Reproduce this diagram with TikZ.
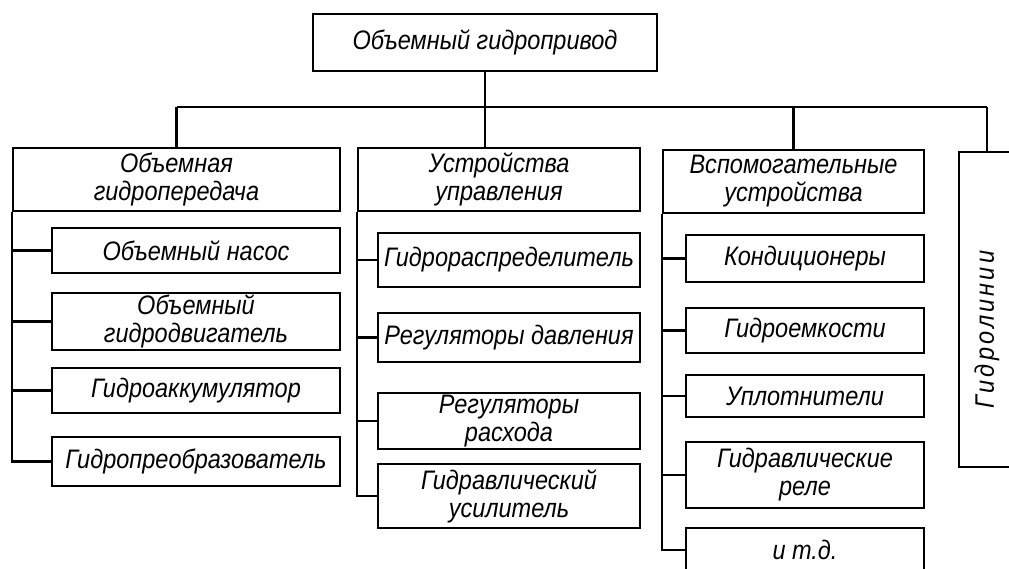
\documentclass[tikz,border=0pt]{standalone}
\usepackage{fontspec}
\setmainfont{Liberation Sans}[FakeStretch=0.88]
\begin{document}
\begin{tikzpicture}[x=0.025cm,y=-0.025cm]
	\tikzset{blk/.style={draw,line width=1.4pt,inner sep=0pt,align=center,
	        font=\itshape\fontsize{19}{20}\selectfont},
	    boxsz/.style 2 args={minimum width=#1*0.025cm,minimum height=#2*0.025cm},
	    lnk/.style={line width=1.6pt}
	}
    \useasboundingbox (0,0) rectangle (1009,569);
    \node [blk,boxsz={344}{57}] (root) at (485,42.5) {Объемный гидропривод};
    \coordinate (bus) at (0,107);

    \node [blk,boxsz={327}{63}] (h1) at (176.5,179.5) {Объемная\\гидропередача};
    \node [blk,boxsz={282}{63}] (h2) at (499,179.5) {Устройства\\управления};
    \node [blk,boxsz={261}{63}] (h3) at (793.5,181.5) {Вспомогательные\\устройства};
    \node [blk,boxsz={56}{315}] (h4) at (987,309.5)
        {\rotatebox{90}{\addfontfeature{LetterSpace=12}Гидролинии\hspace{1cm}}};

    \node [blk,boxsz={288}{45}] (c11) at (196,250.5) {Объемный насос};
    \node [blk,boxsz={288}{57}] (c12) at (196,321.5) {Объемный\\гидродвигатель};
    \node [blk,boxsz={288}{45}] (c13) at (196,390.5) {Гидроаккумулятор};
    \node [blk,boxsz={288}{49}] (c14) at (196,461.5) {Гидропреобразователь};

    \node [blk,boxsz={262}{54}] (c21) at (509,260) {Гидрораспределитель};
    \node [blk,boxsz={262}{49}] (c22) at (509,337.5) {Регуляторы давления};
    \node [blk,boxsz={262}{56}] (c23) at (509,421) {Регуляторы\\расхода};
    \node [blk,boxsz={262}{64}] (c24) at (509,496) {Гидравлический\\усилитель};

    \node [blk,boxsz={238}{47}] (c31) at (805,258.5) {Кондиционеры};
    \node [blk,boxsz={238}{45}] (c32) at (805,330.5) {Гидроемкости};
    \node [blk,boxsz={238}{42}] (c33) at (805,396) {Уплотнители};
    \node [blk,boxsz={238}{66}] (c34) at (805,475) {Гидравлические\\реле};
    \node [blk,boxsz={238}{44}] (c35) at (805,550) {и т.д.};

    \draw [lnk] (root.south) -- (root.south |- h2.north)
    	  (h1.north |- bus) -- (h4.north |- bus)
    	  (h1.north) -- (h1.north |- bus)
    	  (h3.north) -- (h3.north |- bus)
    	  (h4.north) -- (h4.north |- bus);

    \draw [lnk] (h1.south west) |- (c14.west)
    	  (h1.south west |- c11.west) -- (c11.west)
    	  (h1.south west |- c12.west) -- (c12.west)
    	  (h1.south west |- c13.west) -- (c13.west);

    \draw [lnk] (h2.south west) |- (c24.west)
    	  (h2.south west |- c21.west) -- (c21.west)
    	  (h2.south west |- c22.west) -- (c22.west)
    	  (h2.south west |- c23.west) -- (c23.west);

    \draw [lnk] (h3.south west) |- (c35.west)
    	  (h3.south west |- c31.west) -- (c31.west)
    	  (h3.south west |- c32.west) -- (c32.west)
    	  (h3.south west |- c33.west) -- (c33.west)
    	  (h3.south west |- c34.west) -- (c34.west);

\end{tikzpicture}
\end{document}
